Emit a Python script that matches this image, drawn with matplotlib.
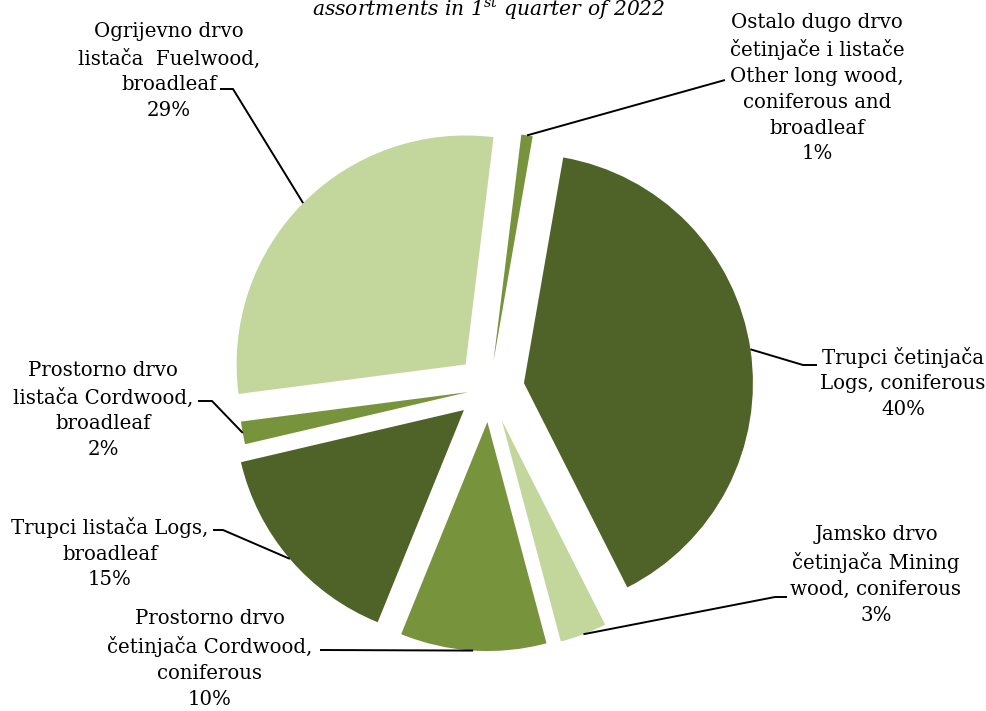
import numpy as np
import matplotlib
matplotlib.use("Agg")
import matplotlib.pyplot as plt

plt.rcParams['font.family'] = ['DejaVu Serif']
plt.rcParams['mathtext.fontset'] = 'dejavuserif'

# slices, clockwise from the top
labels = [
    "Ostalo dugo drvo\nčetinjače i listače\nOther long wood,\nconiferous and\nbroadleaf",
    "Trupci četinjača\nLogs, coniferous",
    "Jamsko drvo\nčetinjača Mining\nwood, coniferous",
    "Prostorno drvo\nčetinjača Cordwood,\nconiferous",
    "Trupci listača Logs,\nbroadleaf",
    "Prostorno drvo\nlistača Cordwood,\nbroadleaf",
    "Ogrijevno drvo\nlistača  Fuelwood,\nbroadleaf",
]
shares = [0.8, 39.8, 3.3, 10.3, 15.2, 1.6, 29.0]
colors = ["#77933C", "#4F6228", "#C3D69B", "#77933C", "#4F6228", "#77933C", "#C3D69B"]
explode = [0.116, 0.152, 0.15, 0.148, 0.147, 0.095, 0.147]

W, H = 987, 711
R = 229
# label block centres and elbow of the leader line (pixel coords, y down)
text_pos = [(817, 88), (903, 383), (876, 575), (210, 659), (110, 553), (103, 410), (169, 71)]
elbow = [(725, 80), (803, 365), (775, 597), (320, 650), (223, 530), (212, 401), (233, 89)]
line_end = [(725, 80), (817, 365), (787, 597), (320, 650), (213, 530), (198, 401), (220, 89)]

fig = plt.figure(figsize=(W / 100, H / 100), dpi=100)
ax = fig.add_axes([0, 0, 1, 1])

wedges, _ = ax.pie(
    shares,
    colors=colors,
    explode=[e * R for e in explode],  # pie takes explode in data units
    startangle=83,
    counterclock=False,
    radius=R,
    center=(489.5, H - 388.2),
    wedgeprops=dict(linewidth=0),
)
ax.set_xlim(0, W)
ax.set_ylim(0, H)
ax.set_aspect("equal")
ax.axis("off")

for w, lab, s, tp, el, le in zip(wedges, labels, shares, text_pos, elbow, line_end):
    mid = np.deg2rad((w.theta1 + w.theta2) / 2)
    ax_x = w.center[0] + w.r * np.cos(mid)
    ax_y = w.center[1] + w.r * np.sin(mid)
    ax.plot([ax_x, el[0], le[0]], [ax_y, H - el[1], H - le[1]], color="black", lw=1.4,
            solid_capstyle="butt")
    ax.text(tp[0], H - tp[1], f"{lab}\n{round(s)}%", ha="center", va="center",
            fontsize=14.2, linespacing=1.45, color="black")

# top of the title sits at the edge of the picture, as in the original
ax.text(489, H - 16, r"assortments in 1$^{\mathit{st}}$ quarter of 2022", ha="center",
        va="baseline", fontsize=14.6, style="italic", color="black")

fig.savefig("out.png", dpi=100)
